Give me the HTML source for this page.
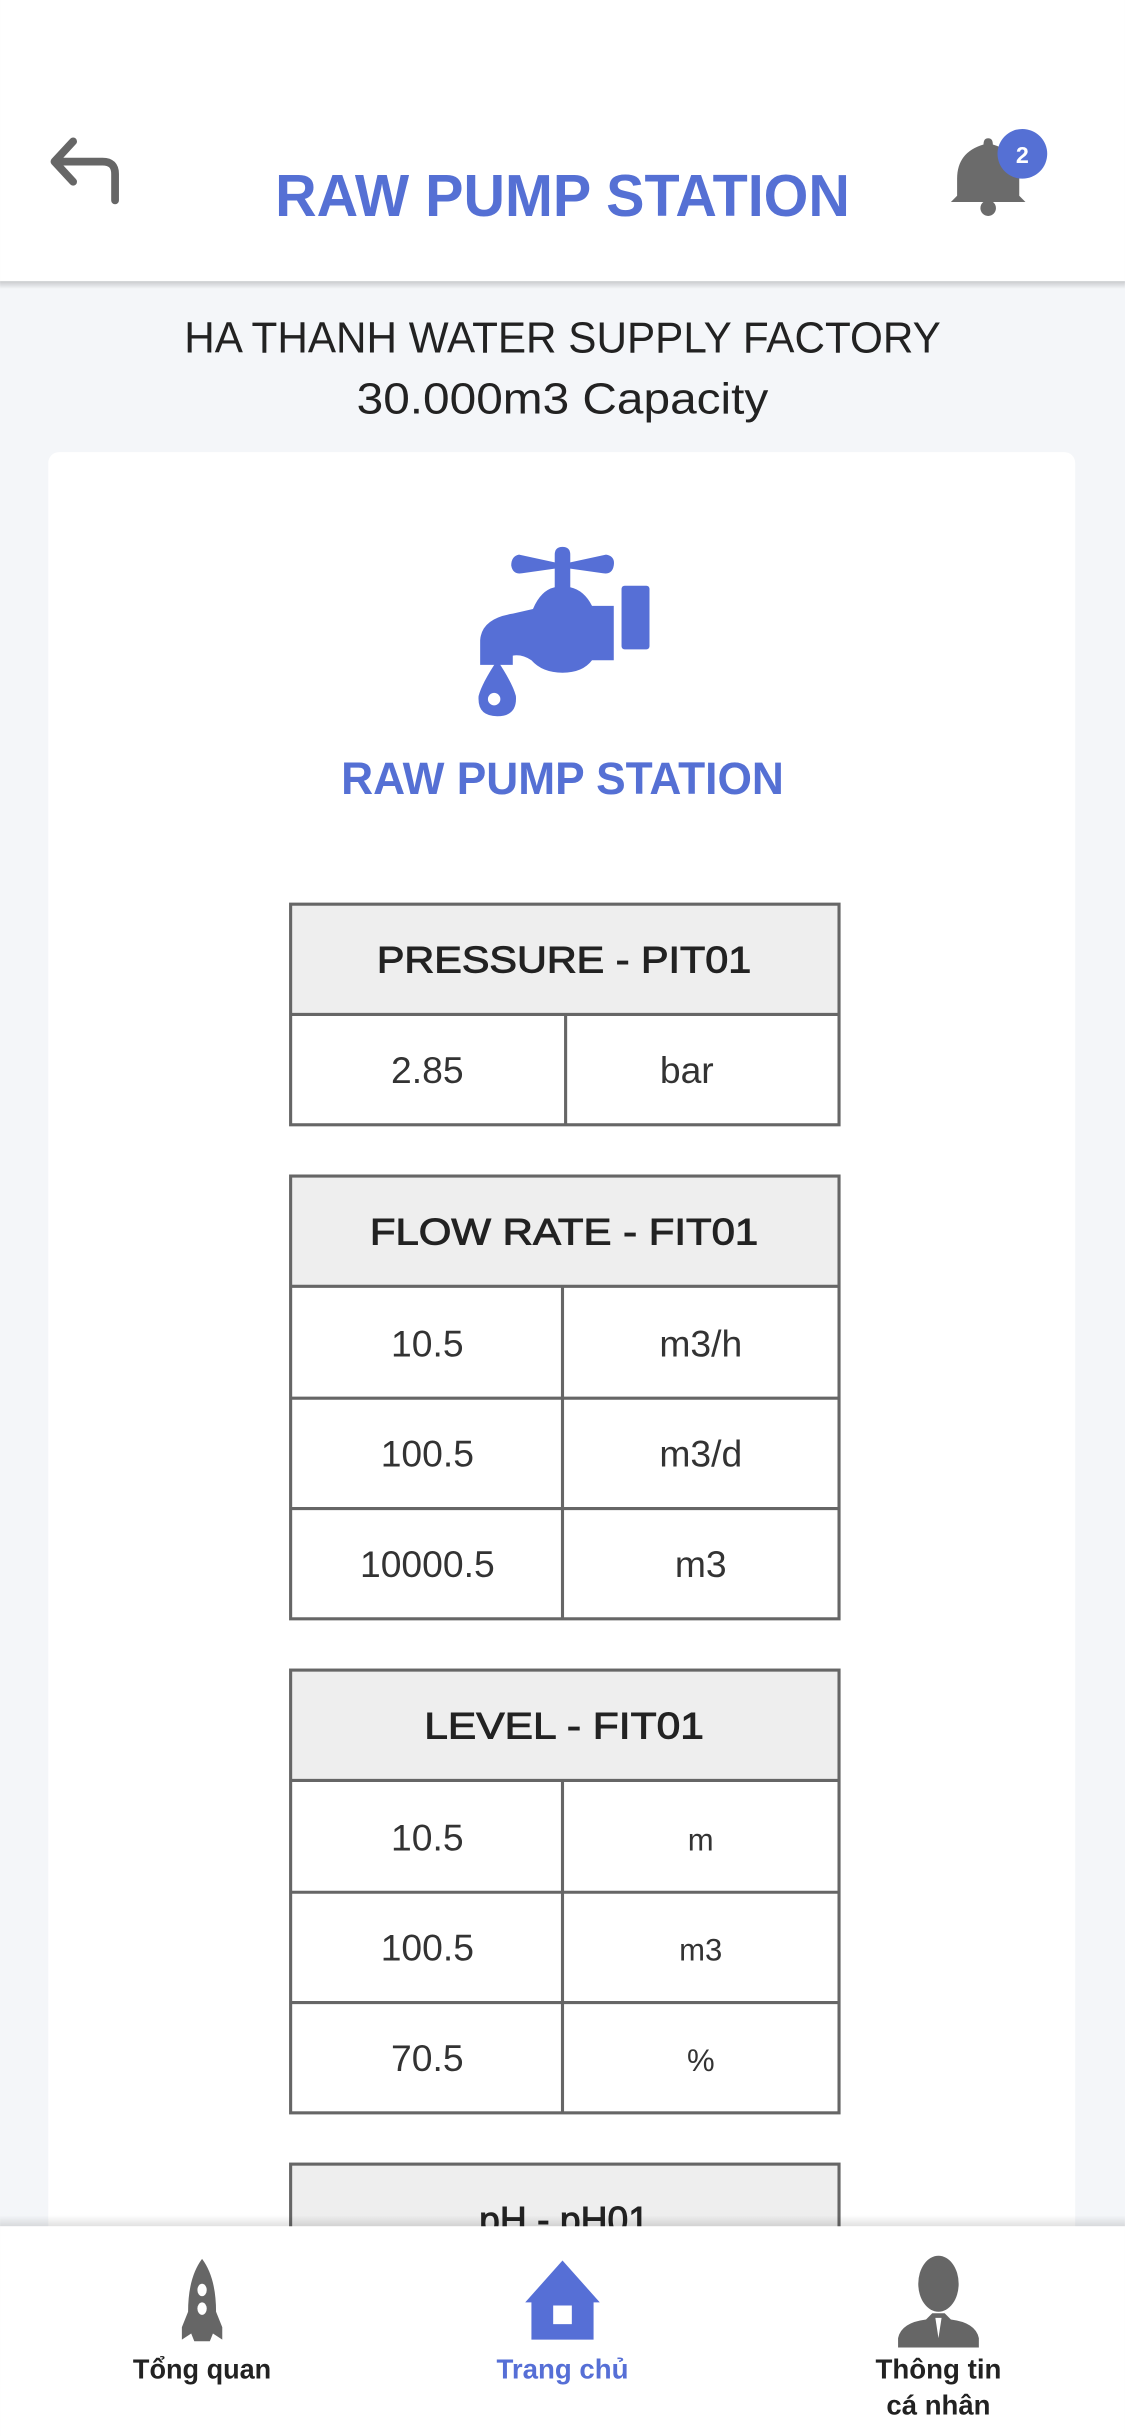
<!DOCTYPE html>
<html><head><meta charset="utf-8"><style>
html,body{margin:0;padding:0;background:#f4f6f9;}
svg{display:block;font-family:"Liberation Sans",sans-serif;}
</style></head><body>
<svg width="1125" height="2436" viewBox="0 0 724 1568" xmlns="http://www.w3.org/2000/svg">
<defs>
<linearGradient id="sh" x1="0" y1="0" x2="0" y2="1"><stop offset="0" stop-color="#000" stop-opacity="0.18"/><stop offset="1" stop-color="#000" stop-opacity="0"/></linearGradient>
<linearGradient id="sh2" x1="0" y1="1" x2="0" y2="0"><stop offset="0" stop-color="#000" stop-opacity="0.12"/><stop offset="1" stop-color="#000" stop-opacity="0"/></linearGradient>
</defs>
<rect x="0" y="0" width="724" height="1568" fill="#f4f6f9"/>
<g>
<rect x="0" y="0" width="724" height="181" fill="#fff"/>
<rect x="0" y="181" width="724" height="5" fill="url(#sh)"/>
<g>
<path d="M47 91 L35 104 L47 117 M37 104 L66 104 Q74 104 74 112 L74 129" fill="none" stroke="#666" stroke-width="5" stroke-linecap="round" stroke-linejoin="round"/>
</g>
<text x="362" y="139" text-anchor="middle" font-size="38" font-weight="bold" fill="#5570d4" textLength="370" lengthAdjust="spacingAndGlyphs">RAW PUMP STATION</text>
<g>
<path d="M636 89 Q639 89 639 93 Q656 98 656 115 L656 126 L660 130 L612 130 L616 126 L616 115 Q616 98 633 93 Q633 89 636 89 Z" fill="#6b6b6b"/>
<circle cx="636" cy="134" r="5" fill="#6b6b6b"/>
<circle cx="658" cy="99" r="16" fill="#5570d4"/>
<text x="658" y="105" text-anchor="middle" font-size="15" font-weight="bold" fill="#fff">2</text>
</g>
</g>
<text x="362" y="227" text-anchor="middle" font-size="28" fill="#222" textLength="487" lengthAdjust="spacingAndGlyphs">HA THANH WATER SUPPLY FACTORY</text>
<text x="362" y="266" text-anchor="middle" font-size="28" fill="#222" textLength="265" lengthAdjust="spacingAndGlyphs">30.000m3 Capacity</text>
<rect x="31" y="291" width="661" height="1250" rx="7" fill="#fff"/>
<g fill="#566fd6">
<path d="M334 357 L357 362 L357 357 Q357 352 362 352 Q367 352 367 357 L367 362 L390 357 Q396 358 395 364 Q394 370 388 369 L367 366 L367 378 Q376 380 381 390 L395 390 L395 425 L381 425 Q375 433 362 433 Q349 433 342 425 Q336 421 330 422 L330 428 L309 428 L309 412 Q310 398 330 395 L343 392 Q348 380 357 378 L357 366 L336 369 Q330 370 329 364 Q329 358 334 357 Z"/>
<rect x="400" y="377" width="18" height="41" rx="2"/>
<path d="M320 425 Q310 440 308 448 Q307 461 320 461 Q333 461 332 448 Q330 440 320 425 Z"/>
</g>
<circle cx="318" cy="450" r="4" fill="#fff"/>
<text x="362" y="511" text-anchor="middle" font-size="29" font-weight="bold" fill="#5570d4" textLength="285" lengthAdjust="spacingAndGlyphs">RAW PUMP STATION</text>

<g font-size="24" text-anchor="middle">
<g>
<rect x="187" y="582" width="353" height="71" fill="#eee"/>
<rect x="187" y="582" width="353" height="142" fill="none" stroke="#666" stroke-width="2"/>
<line x1="187" y1="653" x2="540" y2="653" stroke="#666" stroke-width="2"/>
<line x1="364" y1="653" x2="364" y2="724" stroke="#666" stroke-width="2"/>
<text x="363" y="626" fill="#222" stroke="#222" stroke-width="0.6" textLength="241" lengthAdjust="spacingAndGlyphs">PRESSURE - PIT01</text>
<text x="275" y="697" fill="#333">2.85</text>
<text x="442" y="697" fill="#333">bar</text>
</g>
<g>
<rect x="187" y="757" width="353" height="71" fill="#eee"/>
<rect x="187" y="757" width="353" height="285" fill="none" stroke="#666" stroke-width="2"/>
<line x1="187" y1="828" x2="540" y2="828" stroke="#666" stroke-width="2"/>
<line x1="187" y1="900" x2="540" y2="900" stroke="#666" stroke-width="2"/>
<line x1="187" y1="971" x2="540" y2="971" stroke="#666" stroke-width="2"/>
<line x1="362" y1="828" x2="362" y2="1042" stroke="#666" stroke-width="2"/>
<text x="363" y="801" fill="#222" stroke="#222" stroke-width="0.6" textLength="250" lengthAdjust="spacingAndGlyphs">FLOW RATE - FIT01</text>
<text x="275" y="873" fill="#333">10.5</text><text x="451" y="873" fill="#333">m3/h</text>
<text x="275" y="944" fill="#333">100.5</text><text x="451" y="944" fill="#333">m3/d</text>
<text x="275" y="1015" fill="#333">10000.5</text><text x="451" y="1015" fill="#333">m3</text>
</g>
<g>
<rect x="187" y="1075" width="353" height="71" fill="#eee"/>
<rect x="187" y="1075" width="353" height="285" fill="none" stroke="#666" stroke-width="2"/>
<line x1="187" y1="1146" x2="540" y2="1146" stroke="#666" stroke-width="2"/>
<line x1="187" y1="1218" x2="540" y2="1218" stroke="#666" stroke-width="2"/>
<line x1="187" y1="1289" x2="540" y2="1289" stroke="#666" stroke-width="2"/>
<line x1="362" y1="1146" x2="362" y2="1360" stroke="#666" stroke-width="2"/>
<text x="363" y="1119" fill="#222" stroke="#222" stroke-width="0.6" textLength="180" lengthAdjust="spacingAndGlyphs">LEVEL - FIT01</text>
<text x="275" y="1191" fill="#333">10.5</text><text x="451" y="1191" fill="#333" font-size="20">m</text>
<text x="275" y="1262" fill="#333">100.5</text><text x="451" y="1262" fill="#333" font-size="20">m3</text>
<text x="275" y="1333" fill="#333">70.5</text><text x="451" y="1333" fill="#333" font-size="20">%</text>
</g>
<g>
<rect x="187" y="1393" width="353" height="120" fill="#eee" stroke="#666" stroke-width="2"/>
<text x="363" y="1437" fill="#222" stroke="#222" stroke-width="0.6">pH - pH01</text>
</g>
</g>
<g>
<rect x="0" y="1426" width="724" height="7" fill="url(#sh2)"/>
<rect x="0" y="1433" width="724" height="135" fill="#fff"/>
<g>
<path d="M130 1454 Q139 1466 139 1488 L143 1498 L143 1506 L137 1502 L135 1507 L125 1507 L123 1502 L117 1506 L117 1498 L121 1488 Q121 1466 130 1454 Z" fill="#666"/>
<ellipse cx="130" cy="1474" rx="3" ry="4" fill="#fff"/><ellipse cx="130" cy="1486" rx="3" ry="4" fill="#fff"/>
<text x="130" y="1531" text-anchor="middle" font-size="18" font-weight="bold" fill="#222" textLength="89" lengthAdjust="spacingAndGlyphs">Tổng quan</text>
</g>
<g>
<path d="M362 1455 L386 1482 L382 1482 L382 1506 L342 1506 L342 1482 L338 1482 Z" fill="#566fd6"/>
<rect x="356" y="1484" width="12" height="12" fill="#fff"/>
<text x="362" y="1531" text-anchor="middle" font-size="18" font-weight="bold" fill="#566fd6" textLength="85" lengthAdjust="spacingAndGlyphs">Trang chủ</text>
</g>
<g>
<ellipse cx="604" cy="1470" rx="13" ry="18" fill="#666"/>
<path d="M600 1489 L608 1489 L612 1493 Q628 1495 630 1505 L630 1511 L578 1511 L578 1505 Q580 1495 596 1493 Z" fill="#666"/>
<path d="M602 1492 L606 1492 L604 1505 Z" fill="#fff"/>
<text x="604" y="1531" text-anchor="middle" font-size="18" font-weight="bold" fill="#222" textLength="81" lengthAdjust="spacingAndGlyphs">Thông tin</text>
<text x="604" y="1554" text-anchor="middle" font-size="18" font-weight="bold" fill="#222" textLength="67" lengthAdjust="spacingAndGlyphs">cá nhân</text>
</g>
</g>
</svg>
</body></html>
